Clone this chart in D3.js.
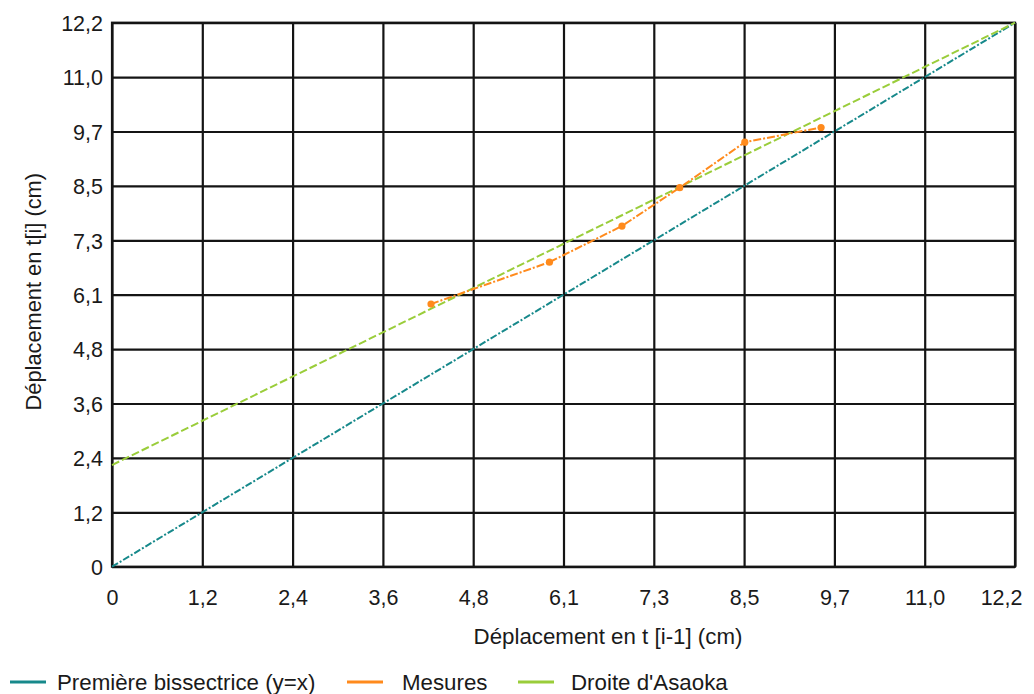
<!DOCTYPE html>
<html>
<head>
<meta charset="utf-8">
<script src="https://cdn.jsdelivr.net/npm/d3@7/dist/d3.min.js"></script>
<style>
  html, body { margin: 0; padding: 0; background: #fff; }
  svg { display: block; font-family: "Liberation Sans", Arial, sans-serif; }
</style>
</head>
<body>
<svg id="chart" width="1034" height="694"></svg>
<script>
// ---- data ----
const axisMax = 12.2;
const xTickLabels = ["0", "1,2", "2,4", "3,6", "4,8", "6,1", "7,3", "8,5", "9,7", "11,0", "12,2"];
const yTickLabels = ["0", "1,2", "2,4", "3,6", "4,8", "6,1", "7,3", "8,5", "9,7", "11,0", "12,2"];

const bisectX = [0, 12.2];
const bisectY = [0, 12.2];

const mesuresX = [4.31, 5.91, 6.89, 7.67, 8.55, 9.58];
const mesuresY = [5.89, 6.83, 7.64, 8.50, 9.52, 9.85];

const asaokaX = [0, 12.2];
const asaokaY = [2.28, 12.2];

const seriesNames = ["Première bissectrice (y=x)", "Mesures", "Droite d'Asaoka"];
const seriesColors = ["#17898b", "#ff8a1c", "#9acd3a"];

// ---- layout ----
const svg = d3.select("#chart");
const mLeft = 112, mRight = 1015, mTop = 22.7, mBottom = 566.7;
const x = d3.scaleLinear().domain([0, axisMax]).range([mLeft, mRight]);
const y = d3.scaleLinear().domain([0, axisMax]).range([mBottom, mTop]);
const tickVals = d3.range(xTickLabels.length).map(i => i * axisMax / (xTickLabels.length - 1));

// grid + axes
const xAxis = d3.axisBottom(x).tickValues(tickVals)
  .tickFormat((d, i) => xTickLabels[i])
  .tickSizeInner(-(mBottom - mTop)).tickSizeOuter(0).tickPadding(23);
const yAxis = d3.axisLeft(y).tickValues(tickVals)
  .tickFormat((d, i) => yTickLabels[i])
  .tickSizeInner(-(mRight - mLeft)).tickSizeOuter(0).tickPadding(9);

const gx = svg.append("g").attr("transform", `translate(0,${mBottom})`).call(xAxis);
const gy = svg.append("g").attr("transform", `translate(${mLeft},0)`).call(yAxis);
[gx, gy].forEach(g => {
  g.select(".domain").remove();
  g.selectAll(".tick line").attr("stroke", "#141414").attr("stroke-width", 2.2);
  g.selectAll(".tick text").attr("fill", "#1a1a1a").attr("font-size", 21.5)
    .attr("font-family", "'Liberation Sans', Arial, sans-serif");
});
gy.selectAll(".tick text").attr("dy", "0.36em");
// last x label pulled inside the picture, as in the reference
gx.selectAll(".tick text").filter((d, i) => i === xTickLabels.length - 1)
  .attr("text-anchor", "end").attr("dx", 7);

// plot frame
svg.append("rect").attr("x", mLeft).attr("y", mTop)
  .attr("width", mRight - mLeft).attr("height", mBottom - mTop)
  .attr("fill", "none").attr("stroke", "#141414").attr("stroke-width", 2.2);

// series
const line = d3.line().x(d => x(d[0])).y(d => y(d[1]));
const bisect = bisectX.map((v, i) => [v, bisectY[i]]);
const mes = mesuresX.map((v, i) => [v, mesuresY[i]]);
const asa = asaokaX.map((v, i) => [v, asaokaY[i]]);

svg.append("path").datum(bisect).attr("d", line)
  .attr("fill", "none").attr("stroke", seriesColors[0]).attr("stroke-width", 2)
  .attr("stroke-dasharray", "7,2,2,2");
svg.append("path").datum(asa).attr("d", line)
  .attr("fill", "none").attr("stroke", seriesColors[2]).attr("stroke-width", 2)
  .attr("stroke-dasharray", "8,3");
svg.append("path").datum(mes).attr("d", line)
  .attr("fill", "none").attr("stroke", seriesColors[1]).attr("stroke-width", 2)
  .attr("stroke-dasharray", "8,2,2,2");
svg.append("g").selectAll("circle").data(mes).join("circle")
  .attr("cx", d => x(d[0])).attr("cy", d => y(d[1])).attr("r", 3.6)
  .attr("fill", seriesColors[1]);

// axis titles
svg.append("text").attr("x", 608).attr("y", 644).attr("text-anchor", "middle")
  .attr("font-size", 22.3).attr("fill", "#1a1a1a")
  .text("Déplacement en t [i-1] (cm)");
svg.append("text").attr("transform", `translate(41,${(mTop + mBottom) / 2 - 3}) rotate(-90)`)
  .attr("text-anchor", "middle").attr("font-size", 21.8).attr("fill", "#1a1a1a")
  .text("Déplacement en t[i] (cm)");

// legend
const legendLineX = [10, 347, 518];
const legendTextX = [57, 402, 571];
const lg = svg.append("g");
seriesNames.forEach((name, i) => {
  lg.append("line").attr("x1", legendLineX[i]).attr("x2", legendLineX[i] + 36)
    .attr("y1", 682).attr("y2", 682)
    .attr("stroke", seriesColors[i]).attr("stroke-width", 3);
  lg.append("text").attr("x", legendTextX[i]).attr("y", 690)
    .attr("font-size", 22.3).attr("fill", "#1a1a1a").text(name);
});
</script>
</body>
</html>
